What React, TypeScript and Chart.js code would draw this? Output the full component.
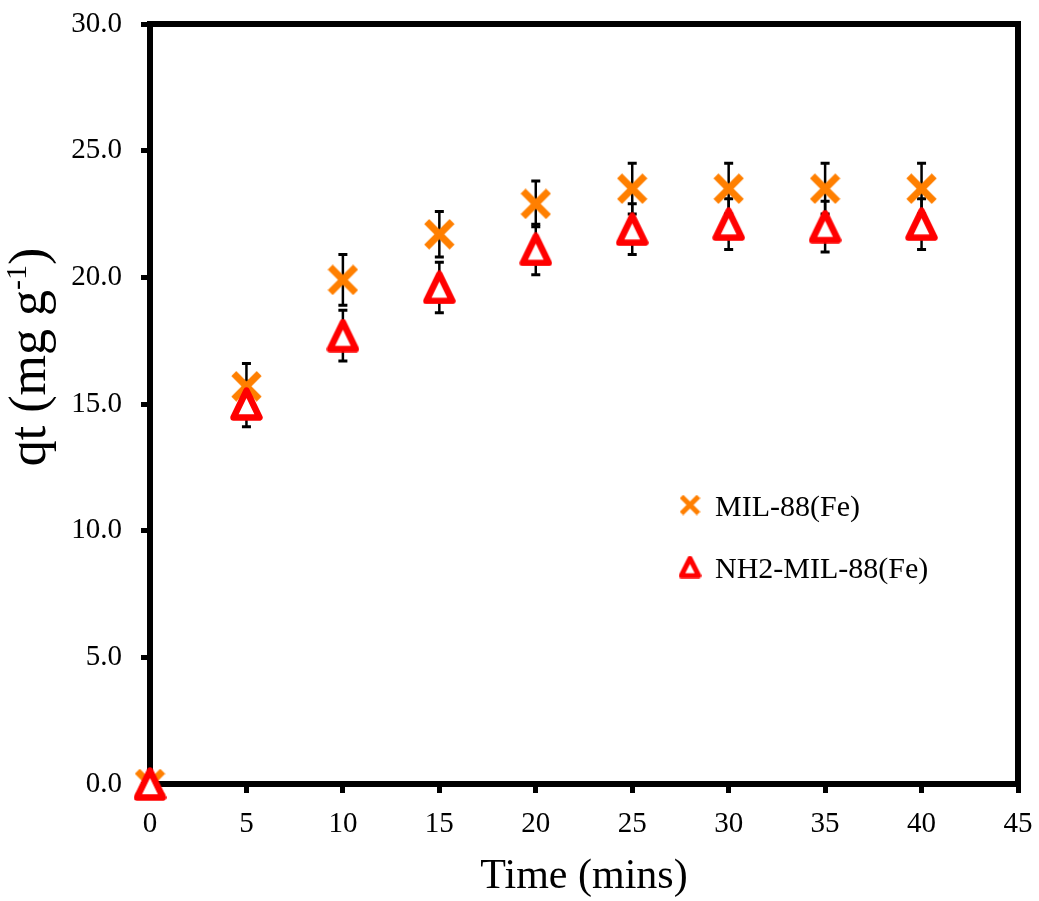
import React, { useEffect, useRef } from "react";
import { Chart, registerables } from "chart.js";

Chart.register(...registerables);

const timeMins = [0, 5, 10, 15, 20, 25, 30, 35, 40];
const mil88Values = [0, 15.7, 19.9, 21.7, 22.9, 23.5, 23.5, 23.5, 23.5];
const mil88Errors = [0, 0.9, 1.0, 0.9, 0.9, 1.0, 1.0, 1.0, 1.0];
const nh2Values = [0, 15.0, 17.7, 19.6, 21.1, 21.9, 22.1, 22.0, 22.1];
const nh2Errors = [0, 0.9, 1.0, 1.0, 1.0, 1.0, 1.0, 1.0, 1.0];
const seriesLabels = ["MIL-88(Fe)", "NH2-MIL-88(Fe)"];
const xMin = 0;
const xMax = 45;
const xStep = 5;
const yMin = 0;
const yMax = 30;
const yStep = 5;
const xTitle = "Time (mins)";
const yTitleMain = "qt (mg g";
const yTitleSup = "-1";
const yTitleEnd = ")";

const ORANGE = "#FF7F00";
const RED = "#FF0000";
const FONT = "'Liberation Serif', 'Times New Roman', serif";

function makeCross(size: number, lw: number, color: string) {
  const c = document.createElement("canvas");
  c.width = size;
  c.height = size;
  const ctx = c.getContext("2d")!;
  const m = lw * 0.4;
  ctx.strokeStyle = color;
  ctx.lineWidth = lw;
  ctx.lineCap = "butt";
  ctx.beginPath();
  ctx.moveTo(m, m);
  ctx.lineTo(size - m, size - m);
  ctx.moveTo(size - m, m);
  ctx.lineTo(m, size - m);
  ctx.stroke();
  return c;
}

function makeTriangle(w: number, h: number, lw: number, color: string) {
  const c = document.createElement("canvas");
  c.width = w;
  c.height = h;
  const ctx = c.getContext("2d")!;
  const pad = lw / 2 + 0.3;
  ctx.lineJoin = "round";
  ctx.lineWidth = lw;
  ctx.beginPath();
  ctx.moveTo(w / 2, pad);
  ctx.lineTo(w - pad, h - pad);
  ctx.lineTo(pad, h - pad);
  ctx.closePath();
  ctx.fillStyle = "#ffffff";
  ctx.fill();
  ctx.strokeStyle = color;
  ctx.stroke();
  return c;
}

export default function App() {
  const ref = useRef<HTMLCanvasElement | null>(null);

  useEffect(() => {
    const canvas = ref.current;
    if (!canvas) return;
    const crossImg = makeCross(31, 7, ORANGE);
    const triImg = makeTriangle(33, 34, 6.5, RED);
    const crossLeg = makeCross(21, 5, ORANGE);
    const triLeg = makeTriangle(23, 23, 5, RED);

    const errorSets = [mil88Errors, nh2Errors];

    const framePlugin = {
      id: "frameAndErrors",
      beforeDatasetsDraw(chart: any) {
        const { ctx, chartArea, scales } = chart;
        ctx.save();
        ctx.strokeStyle = "#000";
        ctx.lineWidth = 6;
        ctx.lineJoin = "miter";
        ctx.strokeRect(
          chartArea.left,
          chartArea.top,
          chartArea.right - chartArea.left,
          chartArea.bottom - chartArea.top
        );
        // error bars
        const values = [mil88Values, nh2Values];
        values.forEach((vals, si) => {
          const errs = errorSets[si];
          vals.forEach((v, i) => {
            const e = errs[i];
            if (!e) return;
            const px = scales.x.getPixelForValue(timeMins[i]);
            const yT = scales.y.getPixelForValue(v + e);
            const yB = scales.y.getPixelForValue(v - e);
            ctx.lineWidth = 2.5;
            ctx.beginPath();
            ctx.moveTo(px, yT);
            ctx.lineTo(px, yB);
            ctx.stroke();
            ctx.lineWidth = 3;
            ctx.beginPath();
            ctx.moveTo(px - 4.5, yT);
            ctx.lineTo(px + 4.5, yT);
            ctx.moveTo(px - 4.5, yB);
            ctx.lineTo(px + 4.5, yB);
            ctx.stroke();
          });
        });
        ctx.restore();
      },
      afterDraw(chart: any) {
        const { ctx } = chart;
        ctx.save();
        ctx.fillStyle = "#000";
        // x title
        ctx.font = `42px ${FONT}`;
        ctx.textAlign = "center";
        ctx.textBaseline = "alphabetic";
        ctx.fillText(xTitle, 584, 888);
        // y title with superscript
        ctx.translate(45, 357);
        ctx.rotate(-Math.PI / 2);
        const mainFont = `52px ${FONT}`;
        const supFont = `30px ${FONT}`;
        ctx.font = mainFont;
        const w1 = ctx.measureText(yTitleMain).width;
        const w3 = ctx.measureText(yTitleEnd).width;
        ctx.font = supFont;
        const w2 = ctx.measureText(yTitleSup).width;
        const total = w1 + w2 + w3;
        let x = -total / 2;
        ctx.textAlign = "left";
        ctx.font = mainFont;
        ctx.fillText(yTitleMain, x, 0);
        x += w1;
        ctx.font = supFont;
        ctx.fillText(yTitleSup, x, -19);
        x += w2;
        ctx.font = mainFont;
        ctx.fillText(yTitleEnd, x, 0);
        ctx.restore();

        // legend
        ctx.save();
        ctx.font = `30px ${FONT}`;
        ctx.fillStyle = "#000";
        ctx.textAlign = "left";
        ctx.textBaseline = "alphabetic";
        ctx.drawImage(crossLeg, 690 - crossLeg.width / 2, 505 - crossLeg.height / 2);
        ctx.fillText(seriesLabels[0], 715, 516);
        ctx.drawImage(triLeg, 690 - triLeg.width / 2, 567 - triLeg.height / 2);
        ctx.fillText(seriesLabels[1], 715, 578);
        ctx.restore();
      },
    };

    const chart = new Chart(canvas, {
      type: "scatter",
      data: {
        datasets: [
          {
            label: seriesLabels[0],
            data: timeMins.map((t, i) => ({ x: t, y: mil88Values[i] })),
            pointStyle: crossImg as any,
            pointRadius: 15,
            showLine: false,
            order: 1,
            clip: false as any,
          },
          {
            label: seriesLabels[1],
            data: timeMins.map((t, i) => ({ x: t, y: nh2Values[i] })),
            pointStyle: triImg as any,
            pointRadius: 15,
            showLine: false,
            order: 0,
            clip: false as any,
          },
        ],
      },
      options: {
        responsive: false,
        animation: false,
        devicePixelRatio: 1,
        layout: { padding: { left: 0, right: 21, top: 24, bottom: 0 } },
        plugins: {
          legend: { display: false },
          tooltip: { enabled: false },
          title: { display: false },
        },
        scales: {
          x: {
            type: "linear",
            min: xMin,
            max: xMax,
            afterFit: (s: any) => {
              s.height = 117;
              s.paddingLeft = 0;
              s.paddingRight = 0;
            },
            ticks: {
              stepSize: xStep,
              color: "#000",
              font: { family: FONT, size: 29 },
              padding: 14,
              maxRotation: 0,
            },
            grid: {
              display: true,
              drawOnChartArea: false,
              drawTicks: true,
              tickLength: 9,
              lineWidth: 5,
              color: "#000",
            },
            border: { display: false },
            title: { display: false },
          },
          y: {
            type: "linear",
            min: yMin,
            max: yMax,
            afterFit: (s: any) => {
              s.width = 150;
              s.paddingTop = 0;
              s.paddingBottom = 0;
            },
            ticks: {
              stepSize: yStep,
              color: "#000",
              font: { family: FONT, size: 29 },
              padding: 19,
              callback: (v: any) => Number(v).toFixed(1),
            },
            grid: {
              display: true,
              drawOnChartArea: false,
              drawTicks: true,
              tickLength: 9,
              lineWidth: 5,
              color: "#000",
            },
            border: { display: false },
            title: { display: false },
          },
        },
      },
      plugins: [framePlugin],
    });
    return () => chart.destroy();
  }, []);

  return (
    <canvas
      ref={ref}
      width={1039}
      height={901}
      style={{ position: "fixed", left: 0, top: 0, width: 1039, height: 901, background: "#fff" }}
    />
  );
}
